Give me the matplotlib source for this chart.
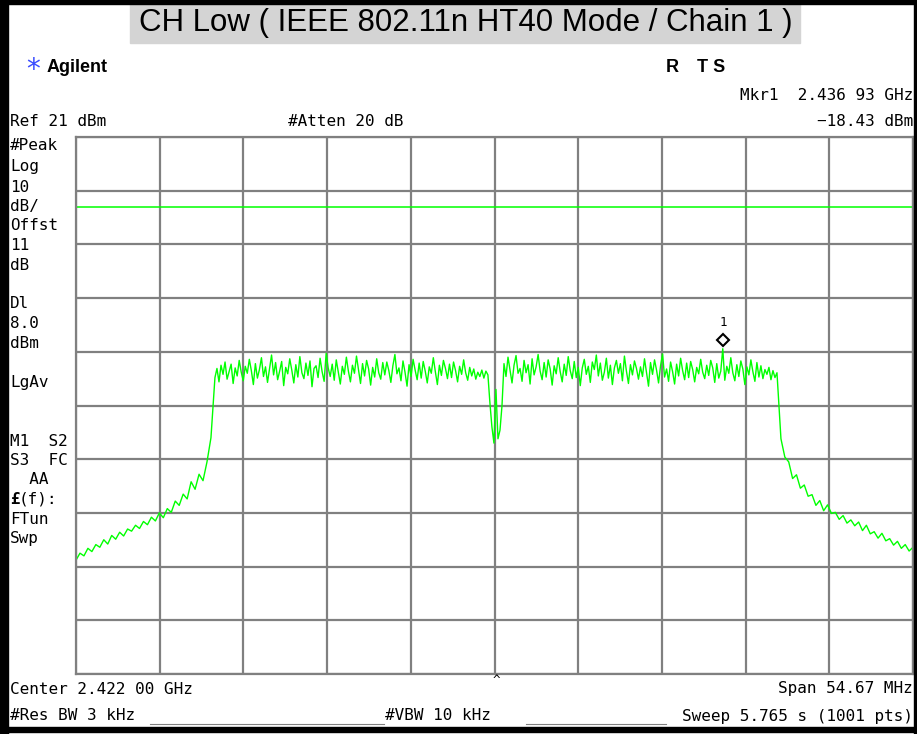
import matplotlib.pyplot as plt
import matplotlib.transforms as mtransforms
from matplotlib.patches import Rectangle
from matplotlib.lines import Line2D
import numpy as np

# instrument settings
center_ghz = 2.42200
span_mhz = 54.67
ref_dbm = 21.0
db_per_div = 10.0
display_line_dbm = 8.0
marker_ghz = 2.43693
marker_dbm = -18.43

# trace (dBm), piece by piece, in sweep order
lower_skirt = [-57.8, -56.5, -57.0, -55.6, -56.2, -54.9, -55.4, -54.0, -54.8, -53.2,
               -53.9, -52.6, -53.3, -52.0, -52.4, -51.3, -51.9, -50.6, -51.2, -49.8,
               -50.5, -49.0, -49.9, -48.2, -48.9, -46.8, -47.6, -45.5, -46.4, -43.2,
               -44.6, -41.8, -43.0, -39.5, -35.0]
band_lo = [-23.8, -22.1, -24.6, -21.5, -23.2, -20.9, -24.1, -22.7, -21.3, -24.9,
           -22.0, -23.5, -20.6, -22.8, -24.4, -21.7, -23.0, -20.4, -22.5, -25.1,
           -21.2, -23.9, -22.3, -20.1, -23.6, -21.8, -24.7, -22.2, -19.6, -23.3,
           -21.0, -24.2, -22.6, -20.8, -25.3, -21.9, -23.1, -20.3, -22.4, -24.8,
           -21.4, -23.7, -19.9, -22.9, -24.0, -21.1, -23.4, -20.7, -25.5, -22.1,
           -21.6, -23.8, -20.2, -22.7, -24.5, -19.3, -22.0, -23.6, -21.3, -24.3,
           -20.5, -22.8, -25.0, -21.7, -23.2, -20.0, -22.6, -24.6, -21.5, -23.0,
           -19.8, -22.3, -24.9, -21.2, -23.5, -20.6, -22.2, -25.2, -21.9, -23.7,
           -20.3, -22.9, -24.1, -21.0, -23.3, -20.9, -22.5, -24.7, -21.6, -19.5,
           -23.1, -22.0, -24.4, -20.7, -22.8, -25.4, -21.4, -23.6, -20.4, -22.4,
           -24.2, -21.1, -23.9, -20.8, -22.6, -24.8, -21.8, -23.0, -20.1, -22.7,
           -25.1, -21.5, -23.4, -20.6, -22.1, -24.0, -21.3, -23.8, -20.9, -22.5,
           -24.6, -21.7, -23.2, -20.5, -22.9, -24.3, -21.9, -23.5, -22.2, -24.1,
           -22.8, -23.6, -22.4, -23.9, -22.6, -23.3]
notch = [-28.5, -33.0, -36.0, -26.0, -35.2, -33.6, -29.0]
band_hi = [-21.2, -23.6, -20.0, -22.4, -24.8, -21.5, -19.7, -23.0, -22.1, -24.5,
           -20.6, -22.9, -21.4, -25.0, -20.3, -23.3, -21.8, -19.5, -22.6, -24.2,
           -21.0, -23.7, -20.5, -22.2, -25.2, -21.6, -23.1, -20.1, -22.7, -24.6,
           -21.3, -23.4, -19.9, -22.5, -24.0, -20.8, -23.8, -21.9, -25.3, -22.0,
           -20.4, -23.2, -21.7, -24.7, -20.9, -22.3, -19.6, -23.5, -21.1, -24.3,
           -22.8, -20.2, -23.9, -21.5, -25.1, -22.0, -20.6, -23.0, -21.2, -24.4,
           -19.8, -22.6, -24.9, -21.4, -23.3, -20.7, -22.1, -24.1, -21.8, -23.6,
           -20.3, -22.9, -25.4, -21.0, -23.2, -20.5, -22.4, -24.8, -21.6, -19.4,
           -23.7, -22.2, -24.5, -20.9, -22.7, -25.0, -21.3, -23.5, -20.2, -22.5,
           -24.2, -21.1, -23.8, -20.8, -22.3, -24.6, -21.9, -23.1, -20.4, -22.8,
           -24.0, -21.5, -23.4, -20.6, -22.0, -24.7, -21.2, -23.9, -22.6, -18.43,
           -24.3, -21.7, -23.0, -20.1, -22.9, -24.4, -21.4, -23.6, -20.7, -22.2,
           -25.1, -21.8, -23.3, -20.5, -22.7, -24.5, -21.0, -23.7, -21.6, -24.0,
           -22.3, -23.2, -21.9, -24.2, -22.5, -23.8, -22.9]
upper_skirt = [-35.2, -38.6, -39.5, -42.6, -41.9, -44.4, -43.8, -45.9, -45.6, -47.6,
               -46.7, -48.6, -47.5, -49.1, -48.9, -50.2, -49.5, -50.9, -50.3, -51.4,
               -50.7, -52.3, -51.3, -52.9, -52.5, -53.7, -52.8, -54.2, -53.8, -55.0,
               -54.3, -55.6, -54.9, -56.1, -55.4]
# where each piece lies, MHz from center
piece_edges_mhz = [(-27.335, -18.52), (-18.26, -0.43), (-0.30, 0.49),
                   (0.62, 18.45), (18.71, 27.335)]

left_labels = ["#Peak", "Log", "10", "dB/", "Offst", "11", "dB", "Dl", "8.0", "dBm",
               "LgAv", "M1  S2", "S3  FC", "  AA", "FTun", "Swp"]
left_label_y = [146, 167, 187, 206, 226, 246, 265, 303, 323, 343,
                382, 441, 460, 479, 519, 538]

pieces = [lower_skirt, band_lo, notch, band_hi, upper_skirt]
freq = np.concatenate([center_ghz + np.linspace(a, b, len(p)) / 1000
                       for p, (a, b) in zip(pieces, piece_edges_mhz)])
trace = np.concatenate(pieces)
start = center_ghz - span_mhz / 2000
stop = center_ghz + span_mhz / 2000

W, H = 917, 734
fig = plt.figure(figsize=(W / 100, H / 100), dpi=100)
fig.patch.set_facecolor('white')


def fx(x):
    return x / W


def fy(y):
    return 1 - y / H


mono = 'DejaVu Sans Mono'
fs = 11.5

ax = fig.add_axes([fx(76), fy(674), (913 - 76) / W, (674 - 137) / H])
ax.set_xlim(start, stop)
ax.set_ylim(ref_dbm - 10 * db_per_div, ref_dbm)
ax.set_xticks(np.linspace(start, stop, 11))
ax.set_yticks(np.arange(ref_dbm - 10 * db_per_div, ref_dbm + 1, db_per_div))
ax.grid(True, color='#808080', lw=1.6)
ax.tick_params(length=0, labelbottom=False, labelleft=False)
for sp in ax.spines.values():
    sp.set_color('#808080')
    sp.set_linewidth(1.6)

ax.axhline(display_line_dbm, color='#00ff00', lw=1.1)
ax.plot(freq, trace, color='#00ff00', lw=1.0)

# marker 1
off = mtransforms.offset_copy(ax.transData, fig=fig, x=0, y=6, units='points')
ax.plot([marker_ghz], [marker_dbm], marker='D', ms=6, mfc='white', mec='black',
        mew=1.5, transform=off, clip_on=False)
ax.text(marker_ghz, marker_dbm, "1", transform=mtransforms.offset_copy(
    ax.transData, fig=fig, x=0, y=14, units='points'),
    ha='center', va='bottom', fontsize=9, family=mono)

# black frame around the screen
for x0, y0, w, h in [(0, 0, 8, H), (0, 0, W, 4), (914, 0, 3, H), (0, 727, W, 5)]:
    fig.patches.append(Rectangle((fx(x0), fy(y0 + h)), w / W, h / H,
                                 transform=fig.transFigure, color='black', zorder=5))

# title
fig.patches.append(Rectangle((fx(130), fy(43)), 670 / W, 39 / H,
                             transform=fig.transFigure, color='#d4d4d4', zorder=1))
fig.text(fx(466), fy(23), "CH Low ( IEEE 802.11n HT40 Mode / Chain 1 )",
         ha='center', va='center', fontsize=22.5, family='Liberation Sans', zorder=2)

# header
fig.text(fx(33), fy(70), "*", ha='center', va='center', fontsize=20,
         color='#3a4cff', family='DejaVu Sans')
fig.text(fx(47), fy(68), "Agilent", ha='left', va='center', fontsize=13,
         weight='bold', family='Liberation Sans')
fig.text(fx(666), fy(67), "R", ha='left', va='center', fontsize=13,
         weight='bold', family='Liberation Sans')
fig.text(fx(697), fy(67), "T S", ha='left', va='center', fontsize=13,
         weight='bold', family='Liberation Sans')
fig.text(fx(913), fy(96), "Mkr1  2.436 93 GHz", ha='right', va='center',
         fontsize=fs, family=mono)
fig.text(fx(10), fy(122), "Ref 21 dBm", ha='left', va='center', fontsize=fs, family=mono)
fig.text(fx(288), fy(122), "#Atten 20 dB", ha='left', va='center', fontsize=fs, family=mono)
fig.text(fx(913), fy(122), "\u221218.43 dBm", ha='right', va='center', fontsize=fs,
         family=mono)

# left annotation column
for lab, yy in zip(left_labels, left_label_y):
    fig.text(fx(10), fy(yy), lab, ha='left', va='center', fontsize=fs, family=mono)
fig.text(fx(10), fy(499), "\u00a3", ha='left', va='center', fontsize=fs,
         family=mono, weight='bold')
fig.text(fx(19), fy(499), "(f):", ha='left', va='center', fontsize=fs, family=mono)

# footer
fig.text(fx(10), fy(689), "Center 2.422 00 GHz", ha='left', va='center', fontsize=fs,
         family=mono)
fig.text(fx(496), fy(681), "^", ha='center', va='center', fontsize=9, family=mono)
fig.text(fx(913), fy(689), "Span 54.67 MHz", ha='right', va='center', fontsize=fs,
         family=mono)
fig.text(fx(10), fy(716), "#Res BW 3 kHz", ha='left', va='center', fontsize=fs,
         family=mono)
fig.text(fx(385), fy(716), "#VBW 10 kHz", ha='left', va='center', fontsize=fs,
         family=mono)
fig.text(fx(913), fy(716), "Sweep 5.765 s (1001 pts)", ha='right', va='center',
         fontsize=fs, family=mono)
for xa, xb in [(150, 384), (526, 666)]:
    fig.lines.append(Line2D([fx(xa), fx(xb)], [fy(724), fy(724)],
                            transform=fig.transFigure, color='#808080', lw=0.8))

fig.savefig('out.png', dpi=100, facecolor='white')
